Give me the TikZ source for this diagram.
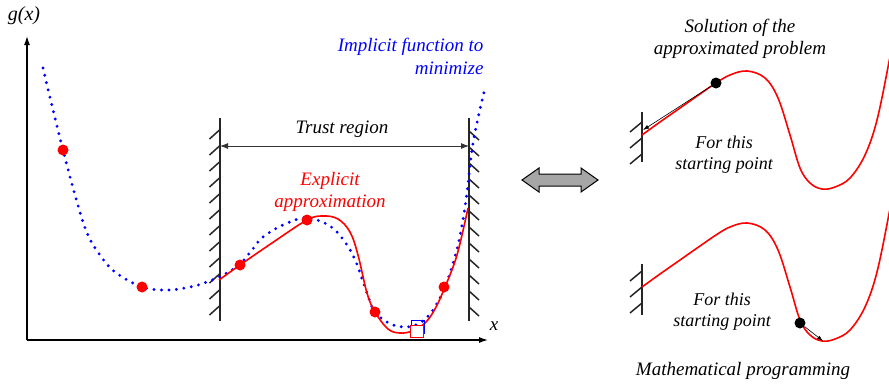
\documentclass[tikz,border=0pt]{standalone}
\usepackage{fontspec}
\setmainfont{Liberation Serif}[ItalicFont={Liberation Serif Italic}]
\newfontfamily\figfont{Liberation Serif Italic}
\usetikzlibrary{arrows.meta}

\begin{document}
\begin{tikzpicture}[
  x=1pt,y=-1pt,
  axis/.style={-{Latex[length=9pt,width=6pt]}, line width=1.2pt},
  wall/.style={line width=2pt, black!85},
  hatch/.style={line width=1.5pt, black!85},
  implicit/.style={blue, line width=3.2pt, line cap=round,
    dash pattern=on 0pt off 7.5pt},
  explicit/.style={red, line width=1.6pt},
  sample/.style={circle, fill=red, inner sep=0pt, minimum size=11pt},
  optimum/.style={circle, fill=black, inner sep=0pt, minimum size=11pt},
  move/.style={-{Latex[length=6pt,width=4pt]}, line width=0.6pt},
  label/.style={font=\fontsize{19}{22}\selectfont\figfont, align=center},
  note/.style={font=\fontsize{18}{21}\selectfont\figfont, align=center}
]
\useasboundingbox (0,0) rectangle (889,383);

% axes
\coordinate (origin) at (27,340);
\coordinate (ytip) at (27,36);
\coordinate (xtip) at (488,340);
\draw[axis] (origin) -- (ytip);
\draw[axis] (origin) -- (xtip);
\node[label, font=\fontsize{20}{22}\selectfont\figfont] (gx) at (24,16) {g(x)};
\node[label] (xlab) at (494,326) {x};

% trust region walls
\draw[wall] (219.5,118) -- (219.5,321);
\foreach \y in {130,146,...,306}
  \draw[hatch] (219.5,\y) -- ++(-10,9);
\draw[wall] (469,118) -- (469,321);
\foreach \y in {131,147,...,307}
  \draw[hatch] (469,\y) -- ++(10,9);
\coordinate (trustL) at (220,146);
\coordinate (trustR) at (469,146);
\draw[{Latex[length=8pt,width=6pt]}-{Latex[length=8pt,width=6pt]},
  line width=0.9pt, black!80] (trustL) -- (trustR);
\node[label] (trust) at (342,129) {Trust region};

% implicit function
\draw[implicit] plot[smooth, tension=0.6] coordinates {
  (43,68) (53,110) (63,150) (75,195) (87,233) (100,255) (115,272)
  (142,287) (167,290) (190,287) (207,282) (225,274) (240,264)
  (252,250) (263,237) (285,224) (307,218) (330,226) (345,242)
  (356,262) (367,293) (375,312) (393,325) (413,326) (430,314)
  (445,287) (458,245) (466,200) (473,143) (485,88)};
\node[label, blue, align=right, anchor=north east,
  font=\fontsize{19}{23}\selectfont\figfont] (implicitlab) at (487,35)
  {Implicit function to\\minimize};

% explicit approximation
\draw[explicit] plot[smooth, tension=0.6] coordinates {
  (219,280) (240,265) (272,243) (307,220) (323,216) (338,219)
  (350,232) (358,255) (367,293) (375,312) (388,329) (400,333)
  (412,331) (425,323) (435,309) (445,287) (457,255) (468,208)};
\node[label, red] (explicitlab) at (330,192) {Explicit\\approximation};

\node[sample] (s1) at (63,150) {};
\node[sample] (s2) at (142,287) {};
\node[sample] (s3) at (240,265) {};
\node[sample] (s4) at (307,220) {};
\node[sample] (s5) at (375,312) {};
\node[sample] (s6) at (444,287) {};
\node[draw=blue, line width=1.2pt, minimum size=13pt, inner sep=0pt]
  (impmin) at (418,327) {};
\node[draw=red, fill=white, line width=1.2pt, minimum size=12.5pt,
  inner sep=0pt] (expmin) at (417,331.5) {};

% equivalence arrow
\draw[line width=1pt, fill=black!35] (522,180) -- (539,168) -- (539,174)
  -- (581,174) -- (581,168) -- (598,180) -- (581,192) -- (581,186)
  -- (539,186) -- (539,192) -- cycle;

% top case
\node[label] (solution) at (740,39) {Solution of the\\approximated problem};
\draw[wall] (642,112) -- (642,162);
\foreach \y in {122,138,154}
  \draw[hatch] (642,\y) -- ++(-12,10);
\draw[explicit] plot[smooth, tension=0.6] coordinates {
  (642,135) (660,122) (680,108) (700,94) (716,83) (730,75) (747,71)
  (765,78) (778,98) (790,135) (800,168) (810,183) (822,189) (835,187)
  (850,178) (865,155) (877,120) (889,62) (893,40)};
\node[optimum] (starttop) at (716,83) {};
\coordinate (walltop) at (643,130);
\draw[move] (starttop) -- (walltop);
\node[note] (fortop) at (724,155) {For this\\starting point};

% bottom case
\draw[wall] (642,264) -- (642,315);
\foreach \y in {271,287,303}
  \draw[hatch] (642,\y) -- ++(-12,10);
\draw[explicit] plot[smooth, tension=0.6] coordinates {
  (642,287) (660,274) (680,260) (700,246) (716,235) (730,227) (747,223)
  (765,230) (778,250) (790,287) (800,320) (810,335) (822,341) (835,339)
  (850,330) (865,307) (877,272) (889,214) (893,192)};
\node[optimum] (startbot) at (800,323) {};
\coordinate (minbot) at (823,341);
\draw[move] (startbot) -- (minbot);
\node[note] (forbot) at (722,312) {For this\\starting point};

\node[label] (mathprog) at (743,371) {Mathematical programming};
\end{tikzpicture}
\end{document}
